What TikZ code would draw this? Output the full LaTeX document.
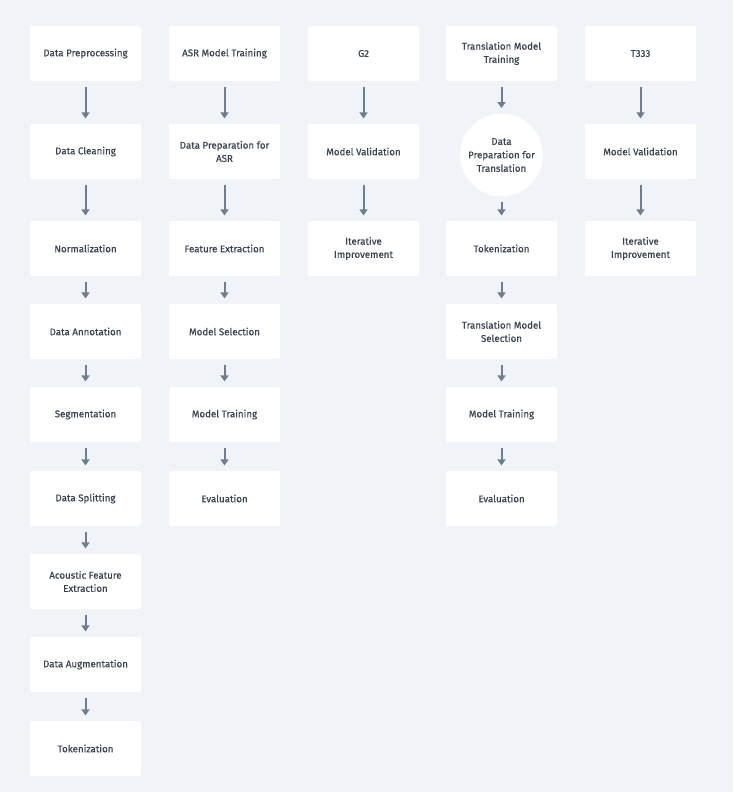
\documentclass[tikz,border=0pt]{standalone}
\usepackage{fontspec}
\setmainfont{Fira Sans}[FakeBold=0.5]
\usepackage{tikz}
\usetikzlibrary{arrows.meta,positioning}
\definecolor{bgcol}{HTML}{F0F3F7}
\definecolor{txtcol}{HTML}{3B4453}
\definecolor{arrcol}{HTML}{6E7D8F}

\begin{document}
\begin{tikzpicture}[x=0.75pt,y=-0.75pt,
            stepbox/.style={rectangle, fill=white, rounded corners=1.5pt,
                            minimum width=83.25pt, minimum height=41.25pt,
                            inner sep=0pt, align=center, text=txtcol,
                            font=\fontsize{7.3}{9.9}\selectfont},
            roundbox/.style={circle, fill=white, minimum size=62pt,
                            inner sep=0pt, align=center, text=txtcol,
                            font=\fontsize{7.3}{10.1}\selectfont},
            arr/.style={draw=arrcol, line width=1.5pt,
                        -{Triangle[width=6pt,length=4.5pt]},
                        shorten <=4pt, shorten >=4pt}]
        \fill[bgcol] (0,0) rectangle (733,792);
        \useasboundingbox (0,0) rectangle (733,792);
        % column 1
        \node[stepbox] (pre)  at (85.5,53.5)  {Data Preprocessing};
        \node[stepbox] (cln)  at (85.5,151.5) {Data Cleaning};
        \node[stepbox] (nrm)  at (85.5,248.5) {Normalization};
        \node[stepbox] (ann)  at (85.5,331.5) {Data Annotation};
        \node[stepbox] (seg)  at (85.5,414.5) {Segmentation};
        \node[stepbox] (spl)  at (85.5,498.5) {Data Splitting};
        \node[stepbox] (afe)  at (85.5,581.5) {Acoustic Feature\\Extraction};
        \node[stepbox] (aug)  at (85.5,664.5) {Data Augmentation};
        \node[stepbox] (tok)  at (85.5,748.5) {Tokenization};
        \draw[arr] (pre)--(cln); \draw[arr] (cln)--(nrm); \draw[arr] (nrm)--(ann);
        \draw[arr] (ann)--(seg); \draw[arr] (seg)--(spl); \draw[arr] (spl)--(afe);
        \draw[arr] (afe)--(aug); \draw[arr] (aug)--(tok);
        % column 2
        \node[stepbox] (asr)  at (224.5,53.5)  {ASR Model Training};
        \node[stepbox] (dpa)  at (224.5,151.5) {Data Preparation for\\ASR};
        \node[stepbox] (fex)  at (224.5,248.5) {Feature Extraction};
        \node[stepbox] (msl)  at (224.5,331.5) {Model Selection};
        \node[stepbox] (mtr)  at (224.5,414.5) {Model Training};
        \node[stepbox] (evl)  at (224.5,498.5) {Evaluation};
        \draw[arr] (asr)--(dpa); \draw[arr] (dpa)--(fex); \draw[arr] (fex)--(msl);
        \draw[arr] (msl)--(mtr); \draw[arr] (mtr)--(evl);
        % column 3
        \node[stepbox] (gtwo) at (363.5,53.5)  {G2};
        \node[stepbox] (mva)  at (363.5,151.5) {Model Validation};
        \node[stepbox] (iim)  at (363.5,248.5) {Iterative\\Improvement};
        \draw[arr] (gtwo)--(mva); \draw[arr] (mva)--(iim);
        % column 4
        \node[stepbox]  (tmt)  at (501.5,53.5)  {Translation Model\\Training};
        \node[roundbox] (dpt)  at (501.5,155)   {Data\\Preparation for\\Translation};
        \node[stepbox]  (ttk)  at (501.5,248.5) {Tokenization};
        \node[stepbox]  (tms)  at (501.5,331.5) {Translation Model\\Selection};
        \node[stepbox]  (tmo)  at (501.5,414.5) {Model Training};
        \node[stepbox]  (tev)  at (501.5,498.5) {Evaluation};
        \draw[arr] (tmt)--(dpt); \draw[arr] (dpt)--(ttk); \draw[arr] (ttk)--(tms);
        \draw[arr] (tms)--(tmo); \draw[arr] (tmo)--(tev);
        % column 5
        \node[stepbox] (tttt) at (640.5,53.5)  {T333};
        \node[stepbox] (mvb)  at (640.5,151.5) {Model Validation};
        \node[stepbox] (iib)  at (640.5,248.5) {Iterative\\Improvement};
        \draw[arr] (tttt)--(mvb); \draw[arr] (mvb)--(iib);
      \end{tikzpicture}
\end{document}
